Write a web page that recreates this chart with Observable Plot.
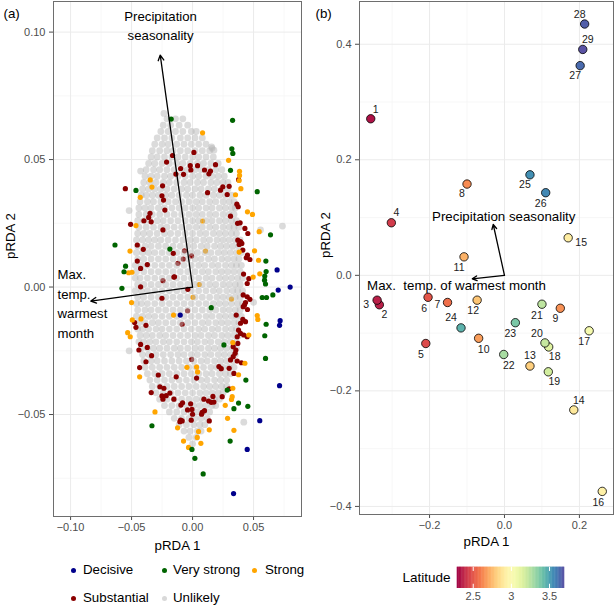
<!DOCTYPE html>
<html>
<head>
<meta charset="utf-8">
<script src="https://cdn.jsdelivr.net/npm/d3@7"></script>
<script src="https://cdn.jsdelivr.net/npm/@observablehq/plot@0.6"></script>
<style>
  html, body { margin: 0; padding: 0; background: #fff; }
  #wrap { position: relative; width: 614px; height: 607px; overflow: hidden;
          font-family: "Liberation Sans", Arial, Helvetica, sans-serif; }
  #wrap svg { position: absolute; }
  .lg-dot { position: absolute; width: 5px; height: 5px; border-radius: 50%; }
  .lg-txt { position: absolute; font-size: 13.3px; line-height: 16px; color: #000; white-space: nowrap; }
</style>
</head>
<body>
<div id="wrap"></div>
<script>
// ---------------- Panel (a) data: pRDA 1 / pRDA 2 scores, by outlier category ----------------
const decisive = [[0.0693,0.0067],[0.0702,-0.0012],[0.0800,0.0000],[0.0718,-0.0132],[0.0713,-0.0150],[-0.0101,-0.0110],[0.0713,-0.0387],[0.0551,-0.0524],[0.0448,-0.0637],[0.0336,-0.0810]];
const veryStrong = [[-0.0175,0.0659],[0.0328,0.0654],[0.0322,0.0542],[0.0330,0.0524],[0.0311,0.0458],[-0.0464,0.0379],[0.0530,0.0374],[0.0639,0.0205],[-0.0636,0.0165],[-0.0186,0.0149],[0.0601,0.0102],[-0.0549,0.0082],[-0.0562,0.0060],[0.0603,0.0061],[0.0592,0.0043],[0.0590,0.0027],[-0.0579,-0.0005],[0.0598,0.0012],[0.0658,-0.0031],[0.0606,-0.0041],[0.0571,-0.0041],[0.0153,-0.0081],[0.0603,-0.0146],[0.0592,-0.0191],[0.0257,-0.0227],[0.0598,-0.0280],[0.0284,-0.0404],[0.0437,-0.0365],[0.0377,-0.0455],[0.0339,-0.0477],[0.0453,-0.0468],[-0.0333,-0.0544],[0.0308,-0.0604],[-0.0005,-0.0637],[0.0019,-0.0672],[0.0087,-0.0733]];
const strong = [[0.0082,0.0605],[0.0295,0.0497],[0.0385,0.0454],[0.0385,0.0438],[0.0382,0.0418],[-0.0347,0.0420],[-0.0333,0.0392],[0.0352,0.0362],[0.0396,0.0386],[-0.0429,0.0352],[0.0450,0.0295],[0.0491,0.0285],[-0.0464,0.0241],[0.0546,0.0217],[-0.0513,0.0141],[0.0382,0.0137],[0.0508,0.0142],[0.0541,0.0105],[-0.0524,0.0056],[-0.0497,0.0058],[0.0551,0.0052],[0.0497,0.0039],[-0.0500,-0.0061],[-0.0156,-0.0110],[-0.0423,-0.0125],[-0.0494,-0.0129],[0.0530,-0.0112],[0.0535,-0.0127],[-0.0532,-0.0179],[-0.0511,-0.0195],[0.0461,-0.0188],[0.0330,-0.0218],[0.0429,-0.0299],[0.0377,-0.0344],[-0.0046,-0.0315],[0.0033,-0.0314],[-0.0434,-0.0352],[0.0041,-0.0333],[0.0330,-0.0397],[0.0325,-0.0430],[0.0319,-0.0441],[0.0268,-0.0464],[-0.0308,-0.0490],[0.0287,-0.0515],[-0.0123,-0.0552],[0.0339,-0.0562],[0.0137,-0.0560],[0.0049,-0.0567],[0.0038,-0.0590],[-0.0074,-0.0604],[-0.0033,-0.0629],[0.0068,-0.0613]];
const strongCore = [[0.0082,0.0259],[0.0106,0.0141],[0.0055,0.0010],[0.0003,-0.0040],[0.0319,-0.0047]];
const substantial = [[-0.0164,0.0516],[-0.0213,0.0490],[0.0011,0.0528],[-0.0098,0.0465],[-0.0137,0.0443],[-0.0074,0.0442],[-0.0019,0.0476],[-0.0014,0.0459],[0.0041,0.0476],[0.0098,0.0459],[0.0134,0.0444],[0.0147,0.0455],[0.0188,0.0480],[0.0377,0.0421],[-0.0551,0.0386],[-0.0246,0.0397],[0.0123,0.0370],[0.0229,0.0380],[0.0248,0.0393],[0.0300,0.0395],[0.0284,0.0363],
[-0.0251,0.0358],[-0.0238,0.0341],[-0.0227,0.0302],[0.0363,0.0325],[0.0374,0.0315],[-0.0349,0.0289],[-0.0360,0.0273],[-0.0339,0.0256],[-0.0399,0.0260],[-0.0508,0.0246],[-0.0243,0.0224],[0.0311,0.0278],[0.0369,0.0250],[0.0390,0.0252],[0.0429,0.0230],[0.0453,0.0210],[0.0371,0.0184],[0.0393,0.0178],[0.0382,0.0167],[0.0404,0.0171],[-0.0453,0.0165],[-0.0404,0.0148],[0.0412,0.0145],[0.0450,0.0125],[0.0440,0.0115],[0.0470,0.0108],[-0.0453,0.0102],[-0.0426,0.0073],[-0.0371,0.0088],[-0.0153,0.0039],[0.0418,0.0051],[0.0461,0.0033],[0.0448,0.0014],[-0.0426,0.0001],[-0.0251,-0.0044],[0.0415,-0.0031],[0.0448,-0.0038],[0.0470,-0.0048],[0.0434,-0.0061],[0.0415,-0.0077],[0.0450,-0.0088],[0.0426,-0.0070],[-0.0475,-0.0139],[-0.0464,-0.0158],[-0.0382,-0.0150],[0.0358,-0.0110],[0.0412,-0.0127],[0.0434,-0.0136],[0.0393,-0.0142],[0.0377,-0.0169],[0.0393,-0.0182],[0.0420,-0.0188],[0.0448,-0.0195],[0.0366,-0.0195],[0.0371,-0.0221],[-0.0426,-0.0225],[-0.0440,-0.0247],[-0.0371,-0.0237],[-0.0336,-0.0269],[-0.0382,-0.0293],[-0.0434,-0.0316],[-0.0281,-0.0345],[0.0333,-0.0234],[0.0355,-0.0247],[0.0349,-0.0260],[0.0333,-0.0273],[0.0311,-0.0286],[0.0366,-0.0290],[0.0300,-0.0319],[0.0339,-0.0339],[0.0216,-0.0312],[0.0235,-0.0320],[0.0033,-0.0357],[-0.0134,-0.0352],[-0.0158,0.0132],[-0.0148,0.0040],[-0.0039,-0.0009],
[-0.0268,-0.0391],[-0.0235,-0.0397],[-0.0339,-0.0414],[-0.0251,-0.0427],[-0.0243,-0.0440],[-0.0216,-0.0426],[-0.0186,-0.0416],[-0.0153,-0.0440],[-0.0082,-0.0454],[-0.0096,-0.0463],[-0.0016,-0.0458],[-0.0041,-0.0482],[-0.0005,-0.0480],[0.0000,-0.0499],[-0.0011,-0.0522],[-0.0098,-0.0522],[-0.0104,-0.0528],[-0.0085,-0.0525],[0.0074,-0.0499],[0.0079,-0.0491],[0.0098,-0.0485],[0.0093,-0.0440],[0.0131,-0.0447],[0.0153,-0.0452],[0.0175,-0.0451],[0.0137,-0.0525],[0.0167,-0.0429],[0.0243,-0.0430],[0.0300,-0.0399],[0.0401,-0.0297]];
const substantialCore = [[-0.0076,0.0110],[-0.0008,0.0122],[-0.0243,0.0025],[-0.0041,-0.0093],[-0.0085,-0.0146],[-0.0008,-0.0284],[-0.0066,0.0142],[-0.0120,0.0093]];
// "Unlikely" cloud, read row by row (pRDA 2 value, then pRDA 1 values along that row)
const unlikelyRows = [
[0.066,[-.021,-.014,-.008]],
[0.0635,[-.024,-.018,-.011,-.004]],
[0.061,[-.026,-.020,-.014,-.008,-.001,.003]],
[0.0585,[-.029,-.023,-.017,-.010,-.004,.002,.008]],
[0.056,[-.031,-.025,-.020,-.013,-.007,-.001,.005,.011]],
[0.0535,[-.033,-.027,-.021,-.016,-.010,-.004,.002,.008,.014]],
[0.051,[-.034,-.029,-.023,-.017,-.012,-.006,.000,.005,.011,.017]],
[0.0485,[-.036,-.031,-.025,-.019,-.013,-.008,-.002,.004,.009,.015,.021]],
[0.046,[-.038,-.032,-.027,-.021,-.015,-.009,-.004,.002,.007,.013,.019,.024]],
[0.0435,[-.039,-.034,-.029,-.023,-.018,-.012,-.006,.000,.005,.011,.016,.021,.026]],
[0.041,[-.040,-.035,-.030,-.024,-.019,-.013,-.007,-.002,.004,.009,.015,.020,.025,.029]],
[0.0385,[-.041,-.036,-.031,-.026,-.021,-.015,-.009,-.004,.002,.007,.013,.018,.024,.029]],
[0.036,[-.042,-.038,-.033,-.028,-.022,-.017,-.011,-.005,.000,.006,.011,.017,.022,.027,.032]],
[0.0335,[-.043,-.037,-.032,-.026,-.020,-.014,-.009,-.003,.003,.008,.014,.019,.025,.030,.034]],
[0.031,[-.044,-.039,-.034,-.028,-.023,-.017,-.011,-.006,.000,.005,.011,.016,.022,.027,.032,.035]],
[0.0285,[-.044,-.038,-.033,-.027,-.021,-.015,-.009,-.003,.003,.008,.014,.019,.025,.030,.034]],
[0.026,[-.045,-.040,-.035,-.029,-.024,-.018,-.012,-.006,.000,.005,.011,.016,.022,.027,.032,.036]],
[0.0235,[-.044,-.038,-.032,-.026,-.021,-.015,-.009,-.003,.003,.008,.014,.019,.025,.030,.034,.038]],
[0.021,[-.045,-.040,-.035,-.029,-.023,-.018,-.012,-.006,.000,.006,.011,.017,.022,.027,.032,.036]],
[0.0185,[-.046,-.041,-.036,-.031,-.026,-.020,-.014,-.008,-.002,.003,.009,.014,.020,.025,.030,.035,.039]],
[0.016,[-.045,-.039,-.034,-.028,-.022,-.016,-.010,-.004,.001,.007,.012,.018,.023,.028,.033,.038]],
[0.0135,[-.046,-.041,-.036,-.031,-.025,-.019,-.013,-.007,-.001,.004,.010,.015,.021,.026,.031,.036,.040]],
[0.011,[-.045,-.040,-.034,-.028,-.022,-.016,-.010,-.004,.002,.007,.013,.018,.024,.029,.034,.038]],
[0.0085,[-.047,-.042,-.037,-.031,-.025,-.019,-.013,-.007,-.001,.005,.010,.016,.021,.027,.032,.036,.040]],
[0.006,[-.046,-.040,-.034,-.028,-.022,-.016,-.010,-.004,.002,.008,.013,.019,.024,.029,.034,.039]],
[0.0035,[-.047,-.043,-.037,-.031,-.025,-.019,-.013,-.007,-.001,.005,.011,.016,.022,.027,.032,.037,.041]],
[0.001,[-.045,-.040,-.034,-.028,-.022,-.016,-.010,-.004,.002,.008,.014,.019,.025,.030,.035,.039]],
[-0.0015,[-.047,-.042,-.037,-.031,-.025,-.019,-.013,-.007,-.001,.005,.011,.017,.022,.028,.033,.037,.041]],
[-0.004,[-.045,-.040,-.034,-.028,-.022,-.016,-.010,-.004,.002,.008,.014,.020,.025,.030,.035,.039]],
[-0.0065,[-.046,-.042,-.037,-.031,-.025,-.019,-.013,-.007,-.001,.005,.011,.017,.022,.027,.032,.037,.041]],
[-0.009,[-.045,-.039,-.034,-.028,-.022,-.016,-.010,-.004,.002,.008,.014,.019,.025,.030,.035,.039]],
[-0.0115,[-.046,-.041,-.036,-.031,-.025,-.019,-.013,-.007,-.001,.005,.011,.016,.022,.027,.032,.036,.040]],
[-0.014,[-.044,-.039,-.033,-.028,-.022,-.016,-.010,-.004,.002,.008,.013,.019,.024,.029,.034,.038]],
[-0.0165,[-.045,-.041,-.036,-.030,-.025,-.019,-.013,-.007,-.001,.005,.010,.016,.021,.027,.032,.036]],
[-0.019,[-.043,-.038,-.033,-.027,-.022,-.016,-.010,-.004,.002,.007,.013,.018,.024,.029,.034,.038]],
[-0.0215,[-.044,-.040,-.035,-.030,-.024,-.019,-.013,-.007,-.001,.004,.010,.015,.021,.026,.031,.036]],
[-0.024,[-.042,-.037,-.032,-.027,-.021,-.015,-.010,-.004,.002,.007,.013,.018,.023,.028,.033,.036]],
[-0.0265,[-.041,-.036,-.030,-.024,-.018,-.012,-.007,-.001,.004,.010,.015,.021,.026,.031,.035]],
[-0.029,[-.040,-.034,-.029,-.023,-.017,-.011,-.005,.001,.007,.012,.018,.023,.028,.033]],
[-0.0315,[-.039,-.033,-.027,-.021,-.015,-.009,-.003,.003,.009,.015,.020,.025,.030,.034]],
[-0.034,[-.037,-.031,-.025,-.019,-.013,-.007,-.001,.005,.011,.016,.022,.027,.031]],
[-0.0365,[-.035,-.029,-.023,-.017,-.011,-.005,.001,.007,.012,.018,.023,.028]],
[-0.039,[-.033,-.027,-.021,-.015,-.009,-.003,.003,.009,.014,.019,.024,.028]],
[-0.0415,[-.030,-.024,-.018,-.012,-.006,.000,.006,.011,.016,.021,.025]],
[-0.044,[-.027,-.021,-.015,-.009,-.003,.003,.008,.013,.018,.022]],
[-0.0465,[-.023,-.017,-.011,-.005,.001,.006,.011,.016,.019]],
[-0.049,[-.019,-.013,-.007,-.001,.004,.009,.014]],
[-0.0515,[-.015,-.009,-.003,.002,.007,.012]],
[-0.054,[-.011,-.005,.001,.006,.010]],
[-0.0565,[-.007,-.002,.004,.007]],
[-0.059,[-.003,.003]],
[-0.0615,[.000]]
];
const unlikelyExtra = [[-0.0235,0.0681],[0.0420,-0.0530],[0.0160,0.0544],[0.0175,0.0537],[0.0156,0.0550],[-0.0426,0.0455],[0.0557,0.0224],[0.0737,0.0239],[-0.0520,0.0300],[0.0500,-0.0060],[-0.0520,-0.0250]];

// Environmental vectors (biplot arrows) for panel (a) and (b)
const envNames = ["Precipitation\nseasonality", "Max.\ntemp.\nwarmest\nmonth"];
const envA_x = [-0.0265, -0.0834];
const envA_y = [0.0910, -0.0055];
const envB_names = ["Precipitation seasonality", "Max.\u00a0 temp. of warmest month"];
const envB_x = [-0.030, -0.086];
const envB_y = [0.088, -0.006];

// Axis ticks
const xTicksA = [-0.10, -0.05, 0.00, 0.05];
const yTicksA = [-0.05, 0.00, 0.05, 0.10];
const xMinorA = [-0.075, -0.025, 0.025, 0.075];
const yMinorA = [-0.075, -0.025, 0.025, 0.075];
const xTicksB = [-0.2, 0.0, 0.2];
const yTicksB = [-0.4, -0.2, 0.0, 0.2, 0.4];
const xMinorB = [-0.3, -0.1, 0.1];
const yMinorB = [-0.3, -0.1, 0.1, 0.3];

// ---------------- Panel (b) data: populations ----------------
const siteId  = [1,2,3,4,5,6,7,8,9,10,11,12,13,14,15,16,17,18,19,20,21,22,23,24,25,26,27,28,29];
const siteX   = [-0.357,-0.334,-0.340,-0.302,-0.210,-0.204,-0.152,-0.100,0.149,-0.069,-0.108,-0.073,0.068,0.185,0.170,0.261,0.226,0.118,0.117,0.108,0.100,-0.002,0.029,-0.116,0.068,0.110,0.202,0.214,0.209];
const siteY   = [0.271,-0.051,-0.043,0.091,-0.118,-0.038,-0.047,0.158,-0.057,-0.109,0.032,-0.043,-0.157,-0.233,0.065,-0.374,-0.096,-0.124,-0.167,-0.117,-0.050,-0.137,-0.082,-0.091,0.174,0.143,0.363,0.435,0.391];
const siteLat = [2.33,2.36,2.36,2.43,2.47,2.50,2.57,2.64,2.65,2.68,2.73,2.78,2.81,2.90,2.92,2.94,3.04,3.14,3.18,3.21,3.23,3.28,3.38,3.45,3.54,3.56,3.63,3.66,3.69];
// label placement (pixel nudges, like ggrepel)
const labelDx = [5,5,-11,5,-5,-4,-10,-5,-5,5,-5,-4,0,5,13,-4,-5,6,6,-8,-5,5,-5,-10,-5,-5,-5,-5,5];
const labelDy = [-9,10,4,-10,11,11,2,10,10,11,11,10,-10,-9,5,11,11,10,10,-9,11,11,11,-10,10,11,10,-9,-10];
const latDomain = [2.29, 3.70];
const latTicks = [2.5, 3, 3.5];

// Legend categories
const categories = ["Decisive", "Very strong", "Strong", "Substantial", "Unlikely"];
const catColors  = ["#00008b", "#006400", "#ffa500", "#8b0000", "#d9d9d9"];

// ---------------- build ----------------
const FONT = "'Liberation Sans', Arial, Helvetica, sans-serif";
const pts = a => a.map(([x, y]) => ({x, y}));
const unlikely = unlikelyRows.flatMap(([y, xs]) => xs.map(x => ({x, y}))).concat(pts(unlikelyExtra));
const envA = envNames.map((n, i) => ({name: n, x: envA_x[i], y: envA_y[i]}));
const envB = envB_names.map((n, i) => ({name: n, x: envB_x[i], y: envB_y[i]}));
const sites = siteId.map((id, i) => ({id, x: siteX[i], y: siteY[i], lat: siteLat[i], dx: labelDx[i], dy: labelDy[i]}));
const wrap = document.getElementById("wrap");
const baseStyle = {fontFamily: FONT, fontSize: "11px", color: "#4d4d4d", background: "transparent", overflow: "visible"};
const dotOpts = (fill) => ({x: "x", y: "y", r: 2.6, fill});

const plotA = Plot.plot({
  width: 303, height: 560,
  marginLeft: 53, marginRight: 2, marginTop: 1, marginBottom: 44,
  style: baseStyle,
  x: {domain: [-0.114, 0.0893], ticks: xTicksA, tickFormat: d3.format(".2f"), tickSize: 4, tickPadding: 3, label: null},
  y: {domain: [-0.090, 0.112], ticks: yTicksA, tickFormat: d3.format(".2f"), tickSize: 4, tickPadding: 4, label: null},
  marks: [
    Plot.ruleX(xMinorA, {stroke: "#f5f5f5", strokeWidth: 0.8}),
    Plot.ruleY(yMinorA, {stroke: "#f5f5f5", strokeWidth: 0.8}),
    Plot.ruleX(xTicksA, {stroke: "#ebebeb", strokeWidth: 1}),
    Plot.ruleY(yTicksA, {stroke: "#ebebeb", strokeWidth: 1}),
    Plot.dot(pts(substantialCore), dotOpts(catColors[3])),
    Plot.dot(pts(strongCore), dotOpts(catColors[2])),
    Plot.dot(unlikely, {x: "x", y: "y", r: 3.4, fill: "#b8b8b8", fillOpacity: 0.5}),
    Plot.dot(pts(substantial), dotOpts(catColors[3])),
    Plot.dot(pts(strong), dotOpts(catColors[2])),
    Plot.dot(pts(veryStrong), dotOpts(catColors[1])),
    Plot.dot(pts(decisive), dotOpts(catColors[0])),
    Plot.arrow(envA, {x1: d => 0, y1: d => 0, x2: "x", y2: "y", stroke: "black", strokeWidth: 1.3, headLength: 7, headAngle: 55}),
    Plot.text([envA[0]], {x: d => -0.0262, y: d => 0.1031, text: "name", fontSize: 13.2, fill: "black", lineHeight: 1.5, textAnchor: "middle"}),
    Plot.text([envA[1]], {x: d => -0.1107, y: d => -0.0059, text: "name", fontSize: 13.2, fill: "black", lineHeight: 1.48, textAnchor: "start"}),
    Plot.frame({stroke: "#6e6e6e", strokeWidth: 1}),
    Plot.text(["pRDA 1"], {frameAnchor: "bottom", text: d => d, dy: 33, fontSize: 13.3, fill: "black"}),
    Plot.text(["pRDA 2"], {frameAnchor: "left", text: d => d, dx: -43, rotate: -90, fontSize: 13.3, fill: "black"}),
    Plot.text(["(a)"], {frameAnchor: "top-left", text: d => d, dx: -50, dy: 7, textAnchor: "start", fontSize: 13.3, fill: "black"})
  ]
});
plotA.style.left = "0px"; plotA.style.top = "0px";
wrap.appendChild(plotA);

const colorScale = {type: "linear", scheme: "spectral", domain: latDomain};

const plotB = Plot.plot({
  width: 309, height: 560,
  marginLeft: 54, marginRight: 1, marginTop: 1, marginBottom: 46,
  style: baseStyle,
  x: {domain: [-0.387, 0.291], ticks: xTicksB, tickFormat: d3.format(".1f"), tickSize: 4, tickPadding: 3, label: null},
  y: {domain: [-0.414, 0.474], ticks: yTicksB, tickFormat: d3.format(".1f"), tickSize: 4, tickPadding: 4, label: null},
  color: colorScale,
  marks: [
    Plot.ruleX(xMinorB, {stroke: "#f5f5f5", strokeWidth: 0.8}),
    Plot.ruleY(yMinorB, {stroke: "#f5f5f5", strokeWidth: 0.8}),
    Plot.ruleX(xTicksB, {stroke: "#ebebeb", strokeWidth: 1}),
    Plot.ruleY(yTicksB, {stroke: "#ebebeb", strokeWidth: 1}),
    Plot.arrow(envB, {x1: d => 0, y1: d => 0, x2: "x", y2: "y", stroke: "black", strokeWidth: 1.3, headLength: 6, headAngle: 55}),
    Plot.text([envB[0]], {x: d => -0.002, y: d => 0.102, text: "name", fontSize: 13.3, fill: "black"}),
    Plot.text([envB[1]], {x: d => -0.128, y: d => -0.018, text: "name", fontSize: 13.3, fill: "black"}),
    Plot.dot(sites, {x: "x", y: "y", r: 4.2, fill: "lat", stroke: "black", strokeWidth: 0.8}),
    ...sites.map(s => Plot.text([s], {x: "x", y: "y", text: d => String(d.id), dx: s.dx, dy: s.dy, fontSize: 10.5, fill: "#1a1a1a"})),
    Plot.frame({stroke: "#6e6e6e", strokeWidth: 1}),
    Plot.text(["pRDA 1"], {frameAnchor: "bottom", text: d => d, dy: 31, fontSize: 13.3, fill: "black"}),
    Plot.text(["pRDA 2"], {frameAnchor: "left", text: d => d, dx: -34, rotate: -90, fontSize: 13.3, fill: "black"}),
    Plot.text(["(b)"], {frameAnchor: "top-left", text: d => d, dx: -44, dy: 7, textAnchor: "start", fontSize: 13.3, fill: "black"})
  ]
});
plotB.style.left = "305px"; plotB.style.top = "0px";
wrap.appendChild(plotB);

// Colour bar legend (Latitude)
const nSteps = 140;
const ramp = d3.range(nSteps).map(i => latDomain[0] + (latDomain[1] - latDomain[0]) * i / nSteps);
const stepW = (latDomain[1] - latDomain[0]) / nSteps;
const cbar = Plot.plot({
  width: 190, height: 47,
  marginLeft: 76.7, marginRight: 5.7, marginTop: 6.7, marginBottom: 19,
  style: baseStyle,
  x: {domain: latDomain, ticks: latTicks, tickFormat: d => String(d), tickSize: 0, tickPadding: 4, label: null},
  y: {domain: [0, 1], axis: null},
  color: colorScale,
  marks: [
    Plot.rect(ramp, {x1: d => d, x2: d => Math.min(d + stepW * 1.6, latDomain[1]), y1: d => 0, y2: d => 1, fill: d => d}),
    Plot.ruleX(latTicks, {y1: d => 0, y2: d => 0.2, stroke: "white", strokeWidth: 1}),
    Plot.ruleX(latTicks, {y1: d => 0.8, y2: d => 1, stroke: "white", strokeWidth: 1}),
    Plot.text(["Latitude"], {frameAnchor: "left", text: d => d, dx: -6.7, textAnchor: "end", fontSize: 13.5, fill: "black"})
  ]
});
cbar.style.left = "380px"; cbar.style.top = "560px";
wrap.appendChild(cbar);

// Category legend (panel a)
const legendPos = [[73, 83, 570], [164, 173, 570], [254, 265, 570], [73, 83, 598], [164, 173, 598]];
categories.forEach((c, i) => {
  const [dx, tx, cy] = legendPos[i];
  const dot = document.createElement("div");
  dot.className = "lg-dot";
  dot.style.left = (dx - 2.5) + "px"; dot.style.top = (cy - 2.5) + "px";
  dot.style.background = catColors[i];
  const t = document.createElement("div");
  t.className = "lg-txt";
  t.style.left = tx + "px"; t.style.top = (cy - 8) + "px";
  t.textContent = c;
  wrap.appendChild(dot); wrap.appendChild(t);
});
</script>
</body>
</html>
